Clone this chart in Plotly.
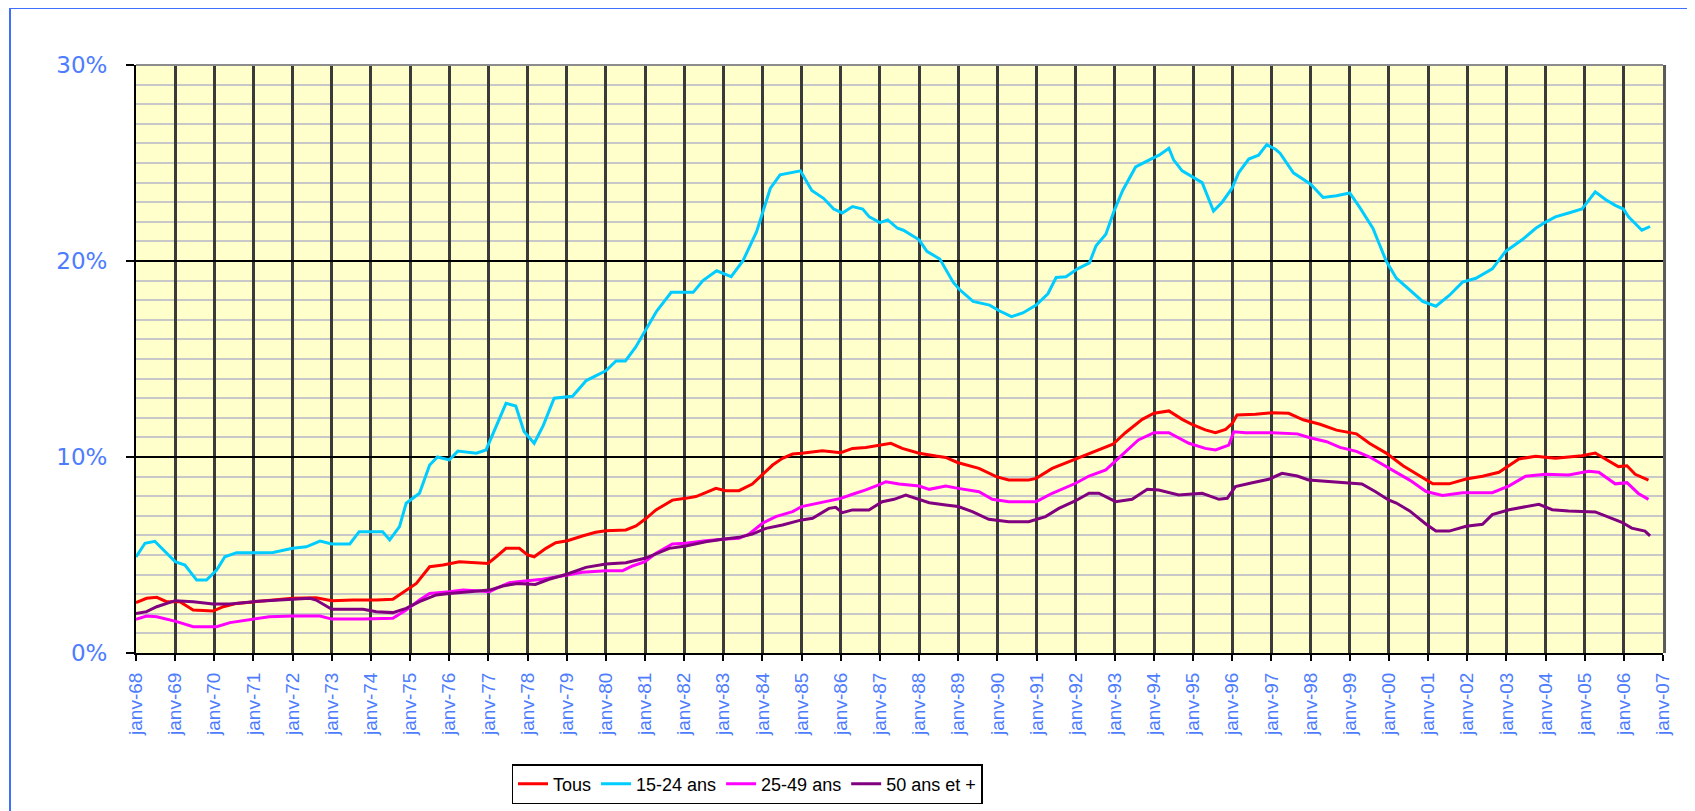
import plotly.graph_objects as go

# ---- data (x = decimal year, y = percent) ----
jeunes_x = [1968.00, 1968.23, 1968.48, 1968.70, 1969.00, 1969.25, 1969.55, 1969.80, 1970.06, 1970.27,
            1970.57, 1971.00, 1971.50, 1972.00, 1972.35, 1972.70, 1973.00, 1973.46, 1973.70, 1974.30,
            1974.48, 1974.73, 1974.90, 1975.24, 1975.50, 1975.70, 1976.00, 1976.22, 1976.69, 1976.94,
            1977.20, 1977.45, 1977.70, 1977.91, 1978.17, 1978.40, 1978.68, 1979.15, 1979.50, 1980.00,
            1980.26, 1980.50, 1980.76, 1981.00, 1981.30, 1981.67, 1982.23, 1982.48, 1982.83, 1983.20,
            1983.50, 1983.85, 1984.00, 1984.20, 1984.45, 1984.97, 1985.26, 1985.56, 1985.82, 1986.04,
            1986.30, 1986.56, 1986.73, 1987.00, 1987.20, 1987.45, 1987.60, 1988.00, 1988.20, 1988.53,
            1988.87, 1989.04, 1989.38, 1989.80, 1990.06, 1990.36, 1990.65, 1990.99, 1991.29, 1991.50,
            1991.75, 1992.05, 1992.35, 1992.52, 1992.77, 1992.98, 1993.20, 1993.53, 1993.92, 1994.13,
            1994.38, 1994.50, 1994.72, 1994.97, 1995.23, 1995.52, 1995.74, 1995.99, 1996.16, 1996.42,
            1996.67, 1996.88, 1997.10, 1997.22, 1997.56, 1998.00, 1998.32, 1998.66, 1999.00, 1999.25,
            1999.59, 1999.93, 2000.19, 2000.53, 2000.86, 2001.20, 2001.54, 2001.88, 2002.22, 2002.64,
            2002.98, 2003.40, 2003.75, 2003.98, 2004.25, 2004.59, 2004.93, 2005.27, 2005.53, 2005.78,
            2005.99, 2006.12, 2006.46, 2006.67]
jeunes_y = [4.90, 5.60, 5.70, 5.26, 4.66, 4.49, 3.72, 3.72, 4.23, 4.91,
            5.12, 5.12, 5.13, 5.34, 5.42, 5.71, 5.56, 5.56, 6.19, 6.19,
            5.77, 6.45, 7.64, 8.15, 9.59, 10.00, 9.85, 10.30, 10.19, 10.36,
            11.55, 12.74, 12.60, 11.30, 10.70, 11.60, 13.00, 13.10, 13.90, 14.40,
            14.90, 14.90, 15.60, 16.40, 17.45, 18.40, 18.40, 19.00, 19.50, 19.20,
            20.00, 21.50, 22.45, 23.70, 24.40, 24.60, 23.60, 23.20, 22.65, 22.45,
            22.78, 22.65, 22.25, 21.96, 22.10, 21.67, 21.57, 21.08, 20.49, 20.10,
            18.92, 18.53, 17.94, 17.75, 17.45, 17.16, 17.35, 17.75, 18.33, 19.16,
            19.20, 19.60, 19.90, 20.78, 21.37, 22.55, 23.60, 24.80, 25.20, 25.40,
            25.75, 25.16, 24.60, 24.30, 24.00, 22.55, 23.00, 23.70, 24.50, 25.20,
            25.40, 25.94, 25.70, 25.50, 24.50, 23.92, 23.24, 23.33, 23.47, 22.75,
            21.67, 20.00, 19.12, 18.53, 17.94, 17.69, 18.24, 18.92, 19.12, 19.60,
            20.49, 21.08, 21.67, 21.96, 22.25, 22.45, 22.65, 23.53, 23.14, 22.84,
            22.65, 22.25, 21.57, 21.76]

tous_x = [1968.00, 1968.27, 1968.53, 1968.78, 1969.12, 1969.46, 1969.97, 1970.23, 1970.57, 1971.25,
          1972.00, 1972.60, 1973.00, 1973.54, 1974.14, 1974.56, 1974.90, 1975.16, 1975.50, 1975.84,
          1976.26, 1976.99, 1977.20, 1977.45, 1977.79, 1978.00, 1978.17, 1978.47, 1978.72, 1979.02,
          1979.40, 1979.74, 1980.00, 1980.51, 1980.77, 1981.00, 1981.28, 1981.70, 1982.04, 1982.30,
          1982.55, 1982.81, 1983.06, 1983.40, 1983.74, 1984.00, 1984.26, 1984.51, 1984.77, 1985.00,
          1985.53, 1986.00, 1986.30, 1986.64, 1987.02, 1987.28, 1987.57, 1988.00, 1988.43, 1988.68,
          1988.98, 1989.53, 1989.97, 1990.29, 1990.80, 1990.99, 1991.40, 1992.00, 1992.50, 1992.95,
          1993.27, 1993.70, 1994.00, 1994.38, 1994.72, 1994.97, 1995.31, 1995.57, 1995.83, 1996.00,
          1996.12, 1996.59, 1997.02, 1997.44, 1997.81, 1998.24, 1998.66, 1999.17, 1999.51, 1999.93,
          2000.36, 2000.69, 2001.12, 2001.54, 2001.97, 2002.39, 2002.81, 2003.32, 2003.75, 2004.25,
          2004.59, 2004.93, 2005.27, 2005.53, 2005.86, 2006.08, 2006.29, 2006.63]
tous_y = [2.57, 2.79, 2.84, 2.62, 2.62, 2.19, 2.14, 2.36, 2.53, 2.67,
          2.79, 2.82, 2.67, 2.70, 2.70, 2.74, 3.21, 3.55, 4.40, 4.49,
          4.66, 4.57, 4.91, 5.34, 5.34, 5.00, 4.91, 5.34, 5.63, 5.73,
          5.97, 6.16, 6.24, 6.28, 6.48, 6.82, 7.30, 7.80, 7.89, 7.98,
          8.18, 8.40, 8.28, 8.28, 8.62, 9.08, 9.59, 9.93, 10.15, 10.19,
          10.32, 10.22, 10.44, 10.49, 10.61, 10.70, 10.44, 10.19, 10.05, 9.98,
          9.72, 9.42, 9.00, 8.83, 8.83, 8.91, 9.42, 9.90, 10.27, 10.65,
          11.24, 11.92, 12.23, 12.35, 11.92, 11.67, 11.38, 11.24, 11.41, 11.72,
          12.14, 12.18, 12.26, 12.23, 11.90, 11.67, 11.37, 11.18, 10.69, 10.20,
          9.55, 9.16, 8.63, 8.63, 8.88, 9.02, 9.22, 9.90, 10.04, 9.94,
          10.00, 10.06, 10.20, 9.90, 9.51, 9.55, 9.12, 8.82]

adultes_x = [1968.00, 1968.27, 1968.53, 1969.04, 1969.46, 1970.06, 1970.40, 1971.00, 1971.40, 1972.00,
             1972.70, 1973.00, 1973.80, 1974.56, 1974.90, 1975.24, 1975.50, 1976.00, 1976.35, 1976.69,
             1977.03, 1977.29, 1977.54, 1977.75, 1978.38, 1979.02, 1979.40, 1980.00, 1980.43, 1980.68,
             1981.00, 1981.28, 1981.70, 1982.04, 1982.55, 1982.98, 1983.40, 1983.66, 1984.00, 1984.34,
             1984.77, 1985.00, 1985.45, 1986.00, 1986.30, 1986.64, 1987.02, 1987.15, 1987.49, 1988.00,
             1988.26, 1988.68, 1989.00, 1989.53, 1989.87, 1990.29, 1990.99, 1991.40, 1992.00, 1992.34,
             1992.77, 1993.10, 1993.60, 1994.00, 1994.38, 1994.89, 1995.31, 1995.57, 1995.91, 1996.04,
             1996.34, 1997.02, 1997.66, 1997.98, 1998.41, 1998.75, 1999.17, 1999.51, 1999.93, 2000.53,
             2000.95, 2001.37, 2001.88, 2002.64, 2003.07, 2003.49, 2004.00, 2004.59, 2005.10, 2005.36,
             2005.78, 2006.08, 2006.37, 2006.63]
adultes_y = [1.72, 1.89, 1.85, 1.60, 1.34, 1.34, 1.55, 1.72, 1.85, 1.89,
             1.89, 1.73, 1.73, 1.77, 2.19, 2.70, 3.04, 3.13, 3.21, 3.18,
             3.13, 3.38, 3.59, 3.64, 3.76, 3.98, 4.12, 4.20, 4.20, 4.44,
             4.66, 5.09, 5.56, 5.60, 5.73, 5.80, 5.85, 6.07, 6.62, 6.96,
             7.21, 7.47, 7.67, 7.89, 8.10, 8.32, 8.62, 8.74, 8.62, 8.52,
             8.35, 8.52, 8.40, 8.23, 7.84, 7.72, 7.72, 8.15, 8.66, 9.03,
             9.34, 9.93, 10.87, 11.24, 11.24, 10.70, 10.44, 10.36, 10.61, 11.29,
             11.24, 11.24, 11.18, 10.98, 10.78, 10.49, 10.29, 10.00, 9.51, 8.82,
             8.24, 8.04, 8.18, 8.18, 8.53, 9.02, 9.12, 9.08, 9.27, 9.22,
             8.63, 8.69, 8.14, 7.84]

seniors_x = [1968.00, 1968.27, 1968.53, 1969.00, 1969.46, 1969.97, 1970.40, 1971.00, 1972.00, 1972.44,
             1972.60, 1973.00, 1973.80, 1974.14, 1974.56, 1974.90, 1975.24, 1975.67, 1976.00, 1976.69,
             1977.03, 1977.37, 1977.75, 1978.20, 1978.55, 1979.02, 1979.49, 1980.00, 1980.51, 1981.00,
             1981.28, 1981.62, 1982.04, 1982.55, 1982.98, 1983.40, 1983.74, 1984.09, 1984.51, 1985.00,
             1985.28, 1985.70, 1985.87, 1986.04, 1986.30, 1986.72, 1987.06, 1987.36, 1987.66, 1987.91,
             1988.26, 1988.68, 1989.00, 1989.36, 1989.78, 1990.29, 1990.80, 1991.23, 1991.57, 1992.00,
             1992.34, 1992.59, 1993.02, 1993.44, 1993.83, 1994.12, 1994.63, 1995.23, 1995.66, 1995.87,
             1996.08, 1996.51, 1996.93, 1997.27, 1997.66, 1997.95, 1998.46, 1999.31, 1999.66, 1999.99,
             2000.19, 2000.53, 2000.95, 2001.20, 2001.54, 2001.97, 2002.39, 2002.64, 2003.07, 2003.58,
             2003.83, 2004.17, 2004.59, 2005.27, 2005.61, 2005.95, 2006.20, 2006.54, 2006.67]
seniors_y = [2.02, 2.11, 2.36, 2.67, 2.62, 2.50, 2.50, 2.62, 2.74, 2.79,
             2.70, 2.23, 2.23, 2.11, 2.06, 2.28, 2.62, 2.96, 3.04, 3.13,
             3.21, 3.42, 3.55, 3.50, 3.76, 4.03, 4.37, 4.54, 4.61, 4.83,
             5.05, 5.34, 5.46, 5.68, 5.80, 5.90, 6.07, 6.36, 6.53, 6.79,
             6.87, 7.38, 7.43, 7.16, 7.30, 7.30, 7.72, 7.84, 8.06, 7.89,
             7.67, 7.55, 7.47, 7.21, 6.82, 6.70, 6.70, 6.96, 7.38, 7.77,
             8.15, 8.15, 7.72, 7.84, 8.35, 8.32, 8.06, 8.15, 7.84, 7.89,
             8.49, 8.69, 8.86, 9.17, 9.03, 8.83, 8.74, 8.62, 8.23, 7.81,
             7.65, 7.25, 6.57, 6.22, 6.22, 6.47, 6.57, 7.06, 7.31, 7.51,
             7.59, 7.31, 7.25, 7.20, 6.92, 6.67, 6.37, 6.22, 5.98]

series_names = ["Tous", "15-24 ans", "25-49 ans", "50 ans et +"]
series_colors = ["#FF0000", "#00CCFF", "#FF00FF", "#800080"]

years = list(range(1968, 2008))
year_labels = ["janv-%02d" % (y % 100) for y in years]
y_ticks = [0, 10, 20, 30]
y_labels = ["0%", "10%", "20%", "30%"]

# ---- figure (page has an 8px body margin: work in page pixels, shift by 8) ----
OFF = 8
W, H = 1695 - OFF, 811 - OFF
L, T = 136 - OFF, 65 - OFF
pw, ph = 1527, 588
R, B = W - L - pw, H - T - ph


def px_x(p):  # page pixel -> paper x
    return (p - OFF - L) / pw


def px_y(p):  # page pixel -> paper y
    return (T + ph - (p - OFF)) / ph


fig = go.Figure()
data = [(tous_x, tous_y), (jeunes_x, jeunes_y), (adultes_x, adultes_y), (seniors_x, seniors_y)]
for (xs, ys), name, col in zip(data, series_names, series_colors):
    fig.add_trace(go.Scatter(x=xs, y=ys, mode="lines", name=name,
                             line=dict(color=col, width=3)))

blue_txt = "#4D7CFE"
fig.update_layout(
    width=W, height=H,
    margin=dict(l=L, r=R, t=T, b=B, autoexpand=False),
    paper_bgcolor="white",
    plot_bgcolor="#FFFFCC",
    showlegend=True,
    legend=dict(orientation="h", x=px_x(747), xanchor="center",
                y=px_y(764), yanchor="top",
                bgcolor="white", bordercolor="black", borderwidth=1.5,
                font=dict(family="Liberation Sans, Arial", size=18, color="black"),
                itemwidth=30, tracegroupgap=0),
    xaxis=dict(range=[1968, 2007], tickmode="array", tickvals=years, ticktext=year_labels,
               tickangle=-90, ticks="outside", ticklen=6, tickwidth=2, tickcolor="black",
               showgrid=True, gridcolor="#3A3A3A", gridwidth=2.5,
               showline=True, linecolor="black", linewidth=2, zeroline=False,
               ticklabelstandoff=4,
               tickfont=dict(family="Liberation Sans, Arial", size=19, color=blue_txt)),
    yaxis=dict(range=[0, 30], tickmode="array", tickvals=y_ticks, ticktext=y_labels,
               ticks="outside", ticklen=8, tickwidth=2, tickcolor="black",
               showgrid=True, gridcolor="black", gridwidth=1.5,
               minor=dict(dtick=1, showgrid=True, gridcolor="#C8C8C8", gridwidth=2, ticks=""),
               showline=True, linecolor="black", linewidth=2, zeroline=False,
               ticklabelstandoff=14,
               tickfont=dict(family="DejaVu Sans, Verdana", size=23, color=blue_txt)),
)

# plot-area top and right edges (grey), outer blue frame
fig.add_shape(type="line", xref="paper", yref="paper", x0=0, x1=1, y0=1, y1=1,
              line=dict(color="#8C8C8C", width=2), layer="above")
fig.add_shape(type="line", xref="paper", yref="paper", x0=1.001, x1=1.001, y0=0, y1=1,
              line=dict(color="#5A5A5A", width=3), layer="above")
fig.add_shape(type="rect", xref="paper", yref="paper",
              x0=px_x(10), x1=px_x(1730), y0=px_y(8), y1=px_y(850),
              line=dict(color="#3F6FFF", width=2), fillcolor="rgba(0,0,0,0)", layer="above")

fig.write_html("out.html")
